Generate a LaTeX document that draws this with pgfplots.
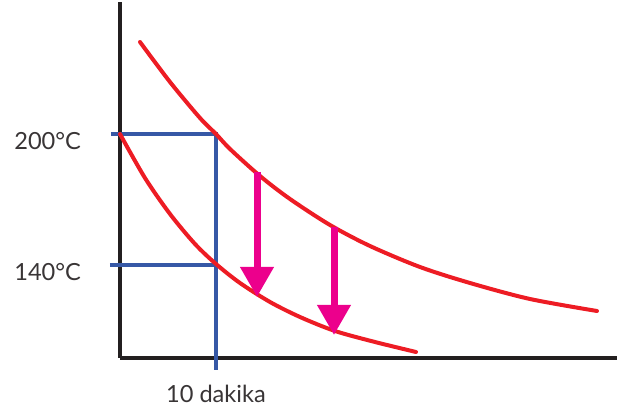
\documentclass[border=0pt]{standalone}
\usepackage{fontspec}
\setmainfont{Lato}
\usepackage{pgfplots}
\pgfplotsset{compat=1.18}
\usetikzlibrary{arrows.meta}
\definecolor{curvered}{RGB}{237,28,36}
\definecolor{guideblue}{RGB}{54,88,166}
\definecolor{dropmag}{RGB}{236,0,140}
\definecolor{axisblack}{RGB}{35,31,32}
\begin{document}
\begin{tikzpicture}
% coordinates are in reference pixels: x = px, y = 410 - py
\begin{axis}[
  scale only axis,
  width=248.5pt, height=178pt,
  xmin=120, xmax=617, ymin=54, ymax=410,
  axis x line=bottom, axis y line=left,
  axis line style={-, line width=2pt, color=axisblack},
  clip=false,
  major tick length=0pt,
  xtick={216}, xticklabels={10 dakika},
  ytick={147,278}, yticklabels={140°C,200°C},
  tick label style={font=\fontsize{11.8}{14}\selectfont, color=axisblack!90},
  xticklabel style={yshift=-10pt},
  yticklabel style={xshift=-16pt, yshift=-3.5pt},
]
  % invisible extent of the whole figure
  \addplot[draw=none] coordinates {(0,0) (627,410)};

  % guide lines
  \addplot[guideblue, line width=2pt] coordinates {(111,278) (216,278) (216,42)};
  \addplot[guideblue, line width=2pt] coordinates {(110,147) (216,147)};

  % upper curve
  \addplot[curvered, line width=2pt, smooth, line cap=round] coordinates {
    (140,370) (170,330) (200,294) (216,278) (230,263) (260,236) (290,213)
    (330,187) (370,166) (420,145) (470,129) (530,113) (597,101)};
  % lower curve
  \addplot[curvered, line width=2pt, smooth, line cap=round] coordinates {
    (120,278) (145,234) (170,198) (195,168) (216,148) (240,129) (270,110)
    (300,95) (335,81) (375,70) (416,60)};

  % drop arrows
  \addplot[dropmag, line width=3.5pt, -{Triangle[length=15pt, width=16pt]}]
    coordinates {(257,240) (257,115)};
  \addplot[dropmag, line width=3.5pt, -{Triangle[length=15pt, width=16pt]}]
    coordinates {(334,185) (334,77)};
\end{axis}
\end{tikzpicture}
\end{document}
